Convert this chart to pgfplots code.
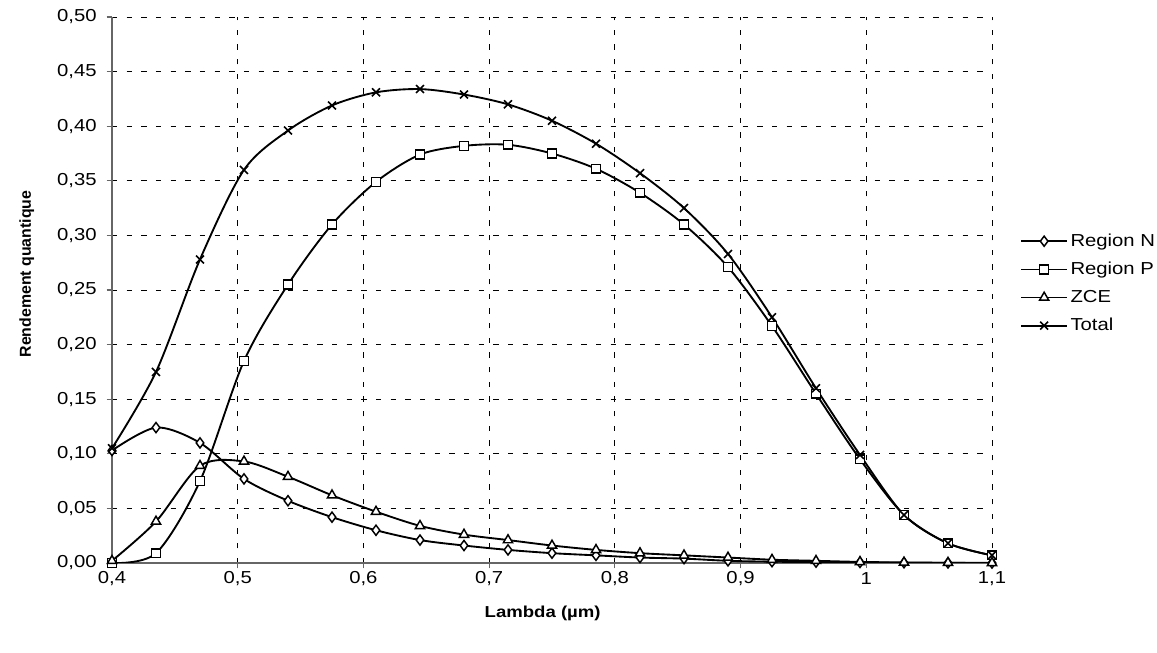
\documentclass[border=0pt]{standalone}
\usepackage{pgfplots}
\pgfplotsset{compat=1.18}
\usepackage{fontspec}
\setmainfont{Liberation Sans}[FakeStretch=1.17]
\newfontfamily\plainsans{Liberation Sans}
\begin{document}
\begin{tikzpicture}
\path[use as bounding box] (-84pt,-67.5pt) rectangle (783.75pt,422.25pt);
\begin{axis}[
  at={(0pt,0pt)}, anchor=origin,
  scale only axis, width=660pt, height=409.5pt,
  xmin=0.4, xmax=1.1, ymin=0, ymax=0.5,
  axis x line=bottom, axis y line=left,
  axis line style={-, gray!80!black, line width=0.8pt},
  xtick={0.4,0.5,0.6,0.7,0.8,0.9,1,1.1},
  ytick={0,0.05,...,0.5},
  xticklabels={0{,}4,0{,}5,0{,}6,0{,}7,0{,}8,0{,}9,1,1{,}1},
  yticklabel style={/pgf/number format/fixed, /pgf/number format/fixed zerofill,
    /pgf/number format/precision=2, /pgf/number format/use comma, xshift=-4pt},
  /pgf/number format/assume math mode=true,
  tick align=outside, major tick length=4pt,
  tick style={gray!80!black, line width=0.8pt},
  ticklabel style={font=\fontsize{13}{14}\selectfont},
  xticklabel style={anchor=center, yshift=-7.5pt},
  grid=major,
  grid style={black, line width=0.6pt, dash pattern=on 4pt off 7pt},
  xlabel={\bfseries Lambda (µm)},
  ylabel={\plainsans\bfseries Rendement quantique},
  label style={font=\fontsize{11.9}{13}\selectfont},
  xlabel style={at={(axis description cs:0.5,0)}, anchor=center, yshift=-38pt, xshift=-7pt},
  ylabel style={at={(axis description cs:0,0.5)}, anchor=center, yshift=64pt, xshift=12pt},
  legend style={draw=none, fill=none, at={(rel axis cs:1.029,0.613)}, anchor=north west,
    font=\fontsize{13}{14}\selectfont, row sep=6.3pt, cells={anchor=west},
    inner xsep=2pt},
  legend image code/.code={\draw[mark repeat=2,mark phase=2,#1] plot coordinates {(0cm,0cm) (0.6cm,0cm) (1.2cm,0cm)};},
  every axis plot/.append style={black, line width=1.4pt, smooth, tension=0.5},
]
\addplot[mark=diamond*, mark size=3.8pt, mark options={solid, fill=white, line width=1.1pt}] coordinates {
(0.4,0.103)(0.435,0.124)(0.47,0.110)(0.505,0.077)(0.54,0.057)(0.575,0.042)(0.61,0.030)
(0.645,0.021)(0.68,0.016)(0.715,0.012)(0.75,0.009)(0.785,0.007)(0.82,0.005)(0.855,0.004)
(0.89,0.002)(0.925,0.0012)(0.96,0.0008)(0.995,0.0005)(1.03,0.0002)(1.065,0.0001)(1.1,0.0)};
\addlegendentry{Region N}
\addplot[mark=square*, mark size=3.3pt, mark options={solid, fill=white, line width=1.1pt}] coordinates {
(0.4,0.0)(0.435,0.009)(0.47,0.075)(0.505,0.185)(0.54,0.255)(0.575,0.310)(0.61,0.349)
(0.645,0.374)(0.68,0.382)(0.715,0.383)(0.75,0.375)(0.785,0.361)(0.82,0.339)(0.855,0.310)
(0.89,0.271)(0.925,0.217)(0.96,0.155)(0.995,0.095)(1.03,0.044)(1.065,0.018)(1.1,0.007)};
\addlegendentry{Region P}
\addplot[mark=triangle*, mark size=4pt, mark options={solid, fill=white, line width=1.1pt}] coordinates {
(0.4,0.002)(0.435,0.038)(0.47,0.089)(0.505,0.093)(0.54,0.079)(0.575,0.062)(0.61,0.047)
(0.645,0.034)(0.68,0.026)(0.715,0.021)(0.75,0.016)(0.785,0.012)(0.82,0.009)(0.855,0.007)
(0.89,0.005)(0.925,0.003)(0.96,0.002)(0.995,0.001)(1.03,0.0005)(1.065,0.0002)(1.1,0.0001)};
\addlegendentry{ZCE}
\addplot[mark=x, mark size=4.2pt, mark options={solid, line width=1.2pt}] coordinates {
(0.4,0.105)(0.435,0.175)(0.47,0.278)(0.505,0.360)(0.54,0.396)(0.575,0.419)(0.61,0.431)
(0.645,0.434)(0.68,0.429)(0.715,0.420)(0.75,0.405)(0.785,0.384)(0.82,0.357)(0.855,0.325)
(0.89,0.283)(0.925,0.225)(0.96,0.160)(0.995,0.099)(1.03,0.044)(1.065,0.018)(1.1,0.007)};
\addlegendentry{Total}
\end{axis}
\end{tikzpicture}
\end{document}
